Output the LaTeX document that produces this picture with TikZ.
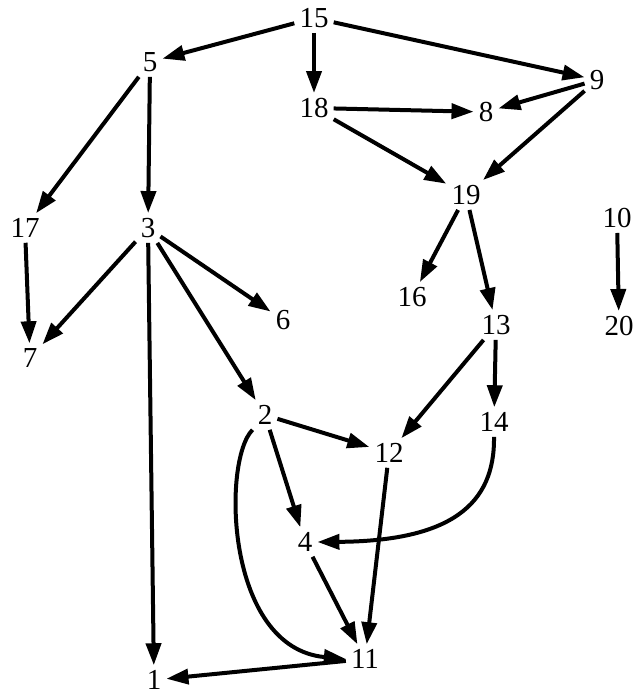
\documentclass[tikz,border=0pt]{standalone}
\usepackage{fontspec}
\setmainfont{Liberation Serif}
\usetikzlibrary{arrows.meta}
\begin{document}
\begin{tikzpicture}[x=1pt,y=-1pt,
  vtx/.style={inner sep=5pt, font=\fontsize{29}{31}\selectfont},
  edge/.style={line width=4pt, -{Triangle[length=22pt,width=15pt]}}]
\useasboundingbox (0,0) rectangle (636,698);
\node[vtx] (n15) at (314,18) {15};
\node[vtx] (n5) at (150,62) {5};
\node[vtx] (n18) at (314,108) {18};
\node[vtx] (n9) at (597,80) {9};
\node[vtx] (n8) at (486,112) {8};
\node[vtx] (n19) at (466,195) {19};
\node[vtx] (n17) at (25,228) {17};
\node[vtx] (n3) at (148,228) {3};
\node[vtx] (n10) at (617,218) {10};
\node[vtx] (n16) at (412,297) {16};
\node[vtx] (n6) at (283,320) {6};
\node[vtx] (n7) at (30,358) {7};
\node[vtx] (n13) at (496,325) {13};
\node[vtx] (n20) at (619,326) {20};
\node[vtx] (n2) at (265,415) {2};
\node[vtx] (n14) at (494,422) {14};
\node[vtx] (n12) at (389,453) {12};
\node[vtx] (n4) at (305,542) {4};
\node[vtx] (n11) at (365,659) {11};
\node[vtx] (n1) at (154,680) {1};
\draw[edge] (n15) -- (n5);
\draw[edge] (n15) -- (n18);
\draw[edge] (n15) -- (n9);
\draw[edge] (n5) -- (n17);
\draw[edge] (n5) -- (n3);
\draw[edge] (n18) -- (n8);
\draw[edge] (n18) -- (n19);
\draw[edge] (n9) -- (n8);
\draw[edge] (n9) -- (n19);
\draw[edge] (n17) -- (n7);
\draw[edge] (n3) -- (n7);
\draw[edge] (n3) -- (n6);
\draw[edge] (n3) -- (n2);
\draw[edge] (n3) -- (n1);
\draw[edge] (n19) -- (n16);
\draw[edge] (n19) -- (n13);
\draw[edge] (n10) -- (n20);
\draw[edge] (n13) -- (n12);
\draw[edge] (n13) -- (n14);
\draw[edge] (n2) -- (n12);
\draw[edge] (n2) -- (n4);
\draw[edge] (n12) -- (n11);
\draw[edge] (n4) -- (n11);
\draw[edge] (n11) -- (n1);
\draw[edge] (n2.south west) .. controls (222,460) and (225,648) .. (n11.west);
\draw[edge] (n14.south) .. controls (495,505) and (450,541) .. (n4.east);
\end{tikzpicture}
\end{document}
